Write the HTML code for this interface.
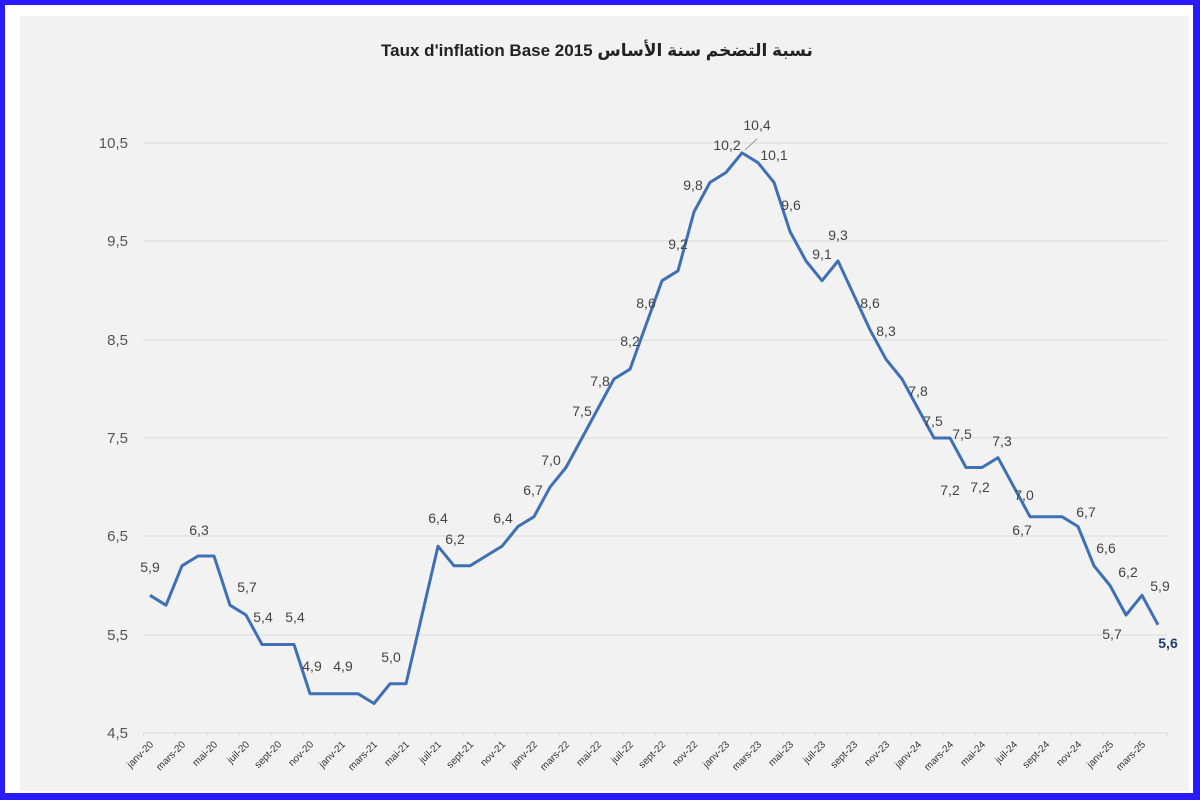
<!DOCTYPE html>
<html><head><meta charset="utf-8"><style>
html,body{margin:0;padding:0;}
body{width:1200px;height:800px;overflow:hidden;background:#fff;}
</style></head><body>
<svg width="1200" height="800" xmlns="http://www.w3.org/2000/svg" font-family="Liberation Sans, sans-serif">
<rect x="0" y="0" width="1200" height="800" fill="#2a1aff"/>
<rect x="5" y="5" width="1188" height="788" fill="#ffffff"/>
<rect x="20" y="16" width="1169" height="775" fill="#f2f2f2"/>
<text x="597" y="56" text-anchor="middle" direction="ltr" font-size="17" font-weight="bold" fill="#222" font-family="Liberation Sans, DejaVu Sans, sans-serif">Taux d'inflation Base  2015&#x200E; نسبة التضخم سنة الأساس</text>
<g stroke="#d9d9d9" stroke-width="1">
<line x1="143" x2="1167" y1="143" y2="143"/><line x1="143" x2="1167" y1="241" y2="241"/>
<line x1="143" x2="1167" y1="340" y2="340"/><line x1="143" x2="1167" y1="438" y2="438"/>
<line x1="143" x2="1167" y1="536" y2="536"/><line x1="143" x2="1167" y1="635" y2="635"/>
<line x1="143" x2="1167" y1="733" y2="733"/>
</g>
<g font-size="15" fill="#555" text-anchor="end">
<text x="128" y="148">10,5</text><text x="128" y="246">9,5</text><text x="128" y="345">8,5</text>
<text x="128" y="443">7,5</text><text x="128" y="541">6,5</text><text x="128" y="640">5,5</text><text x="128" y="738">4,5</text>
</g>
<g id="xl" font-size="10" fill="#333" text-anchor="end"></g>
<polyline id="ln" fill="none" stroke="#3f70b5" stroke-width="3" stroke-linejoin="round"/>
<g font-size="14" fill="#444" text-anchor="middle">
<text x="150" y="572">5,9</text><text x="199" y="535">6,3</text><text x="247" y="592">5,7</text>
<text x="263" y="622">5,4</text><text x="295" y="622">5,4</text><text x="312" y="671">4,9</text>
<text x="343" y="671">4,9</text><text x="391" y="662">5,0</text><text x="438" y="523">6,4</text>
<text x="455" y="544">6,2</text><text x="503" y="523">6,4</text><text x="533" y="495">6,7</text>
<text x="551" y="465">7,0</text><text x="582" y="416">7,5</text><text x="600" y="386">7,8</text>
<text x="630" y="346">8,2</text><text x="646" y="308">8,6</text><text x="678" y="249">9,2</text>
<text x="693" y="190">9,8</text><text x="727" y="150">10,2</text><text x="757" y="130">10,4</text>
<text x="774" y="160">10,1</text><text x="791" y="210">9,6</text><text x="822" y="259">9,1</text>
<text x="838" y="240">9,3</text><text x="870" y="308">8,6</text><text x="886" y="336">8,3</text>
<text x="918" y="396">7,8</text><text x="933" y="426">7,5</text><text x="962" y="439">7,5</text>
<text x="1002" y="446">7,3</text><text x="950" y="495">7,2</text><text x="980" y="492">7,2</text>
<text x="1024" y="500">7,0</text><text x="1022" y="535">6,7</text><text x="1086" y="517">6,7</text>
<text x="1106" y="553">6,6</text><text x="1128" y="577">6,2</text><text x="1160" y="591">5,9</text>
<text x="1112" y="639">5,7</text>
<text x="1168" y="648" font-weight="bold" fill="#1f3f6e">5,6</text>
</g>
<line x1="745" y1="150" x2="757" y2="139" stroke="#999" stroke-width="1"/>
</svg>
<script>
var v=[5.9,5.8,6.2,6.3,6.3,5.8,5.7,5.4,5.4,5.4,4.9,4.9,4.9,4.9,4.8,5.0,5.0,5.7,6.4,6.2,6.2,6.3,6.4,6.6,6.7,7.0,7.2,7.5,7.8,8.1,8.2,8.65,9.1,9.2,9.8,10.1,10.2,10.4,10.3,10.1,9.6,9.3,9.1,9.3,8.95,8.6,8.3,8.1,7.8,7.5,7.5,7.2,7.2,7.3,7.0,6.7,6.7,6.7,6.6,6.2,6.0,5.7,5.9,5.6];
var m=["janv","mars","mai","juil","sept","nov"];
var p=[];
for(var i=0;i<v.length;i++){var x=150+i*16.0;p.push(x.toFixed(1)+","+(733-(v[i]-4.5)*98.33).toFixed(1));}
document.getElementById("ln").setAttribute("points",p.join(" "));
var g=document.getElementById("xl"),ns="http://www.w3.org/2000/svg";
for(var i=0;i<v.length;i+=2){var x=150+i*16+4,y=745;var t=document.createElementNS(ns,"text");
t.setAttribute("x",x);t.setAttribute("y",y);t.setAttribute("transform","rotate(-45 "+x+" "+y+")");
t.textContent=m[(i/2)%6]+"-"+(20+Math.floor(i/12));g.appendChild(t);}
var tk=document.createElementNS(ns,"g");tk.setAttribute("stroke","#d9d9d9");
for(var i=0;i<=64;i+=2){var l=document.createElementNS(ns,"line");var x=143.6+i*16;l.setAttribute("x1",x);l.setAttribute("x2",x);l.setAttribute("y1",733);l.setAttribute("y2",737);tk.appendChild(l);}
document.querySelector("svg").appendChild(tk);
</script>
</body></html>
